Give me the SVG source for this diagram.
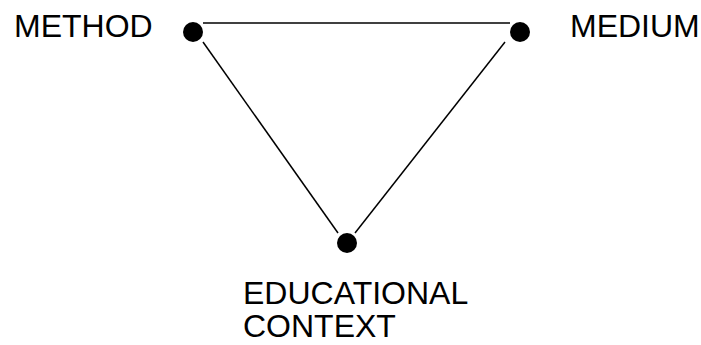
<svg xmlns="http://www.w3.org/2000/svg" width="701" height="345" viewBox="0 0 701 345">
<style>
text{font-family:"Liberation Sans",Arial,sans-serif;font-size:32px;fill:#000}
.dot{fill:#000}
.ln{stroke:#000;stroke-width:1.5;fill:none}
</style>
<rect width="701" height="345" fill="#fff"/>
<g id="connectors">
<line class="ln" x1="203" y1="23" x2="510" y2="23"/>
<line class="ln" x1="203" y1="42" x2="338" y2="233"/>
<line class="ln" x1="505" y1="42" x2="355" y2="233"/>
</g>
<g id="method">
<circle class="dot" cx="193" cy="32" r="10"/>
<text x="14" y="37">METHOD</text>
</g>
<g id="medium">
<circle class="dot" cx="520" cy="32" r="10"/>
<text x="570" y="37">MEDIUM</text>
</g>
<g id="context">
<circle class="dot" cx="347" cy="243" r="10"/>
<text x="243" y="304">EDUCATIONAL</text>
<text x="243" y="337">CONTEXT</text>
</g>
</svg>
